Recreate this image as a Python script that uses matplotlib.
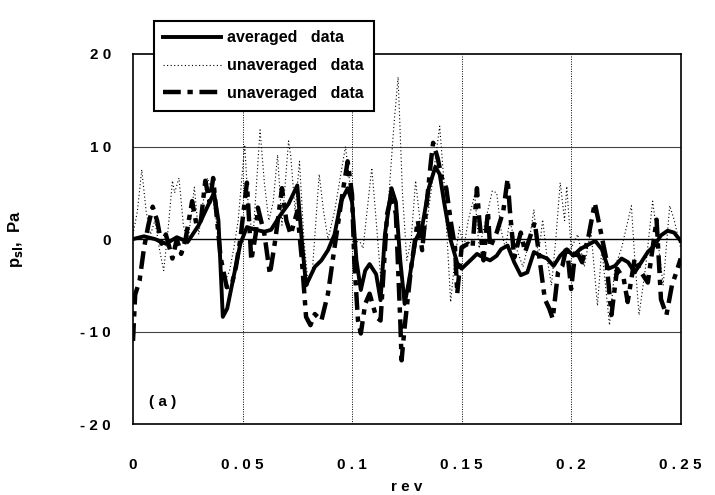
import numpy as np
import matplotlib
matplotlib.use("Agg")
import matplotlib.pyplot as plt

plt.rcParams['font.family'] = ['Liberation Sans', 'DejaVu Sans']

# averaged data (solid, thick)
avg_x = [0.000, 0.005, 0.010, 0.015, 0.020, 0.025, 0.030, 0.034, 0.037, 0.039, 0.041, 0.043,
         0.046, 0.049, 0.052, 0.056, 0.060, 0.063, 0.067, 0.071, 0.075, 0.077, 0.079, 0.081,
         0.083, 0.086, 0.089, 0.092, 0.095, 0.098, 0.100, 0.102, 0.104, 0.106, 0.108, 0.111,
         0.113, 0.115, 0.118, 0.120, 0.122, 0.124, 0.126, 0.129, 0.132, 0.135, 0.138, 0.140,
         0.142, 0.145, 0.148, 0.150, 0.154, 0.157, 0.160, 0.163, 0.166, 0.168, 0.171, 0.174,
         0.177, 0.180, 0.183, 0.186, 0.189, 0.192, 0.195, 0.198, 0.201, 0.204, 0.207, 0.211,
         0.214, 0.217, 0.220, 0.223, 0.226, 0.229, 0.232, 0.235, 0.238, 0.241, 0.244, 0.247, 0.250]
avg_y = [0.0, 0.3, 0.0, -0.5, 0.2, -0.3, 1.5, 3.5, 5.0, 2.0, -8.4, -7.5,
         -4.0, -0.5, 1.3, 1.0, 0.8, 1.0, 2.5, 3.8, 5.8, 0.0, -5.0, -4.0,
         -3.0, -2.3, -1.2, 0.5, 4.1, 5.5, 4.0, -2.3, -5.5, -3.4, -2.7, -3.8,
         -6.6, 0.5, 5.5, 4.0, -2.3, -7.0, -4.5, -0.1, 1.3, 5.5, 7.8, 7.0,
         4.0, -0.1, -2.6, -3.2, -2.3, -1.6, -2.0, -2.3, -1.8, -1.1, -0.7, -2.5,
         -3.9, -3.6, -1.4, -1.8, -2.1, -2.9, -1.8, -1.1, -1.8, -1.1, -0.7, -0.2,
         -1.1, -3.2, -2.9, -2.1, -2.5, -3.6, -2.5, -1.4, -0.7, 0.4, 0.9, 0.7, -0.2]

# unaveraged data (dotted, thin)
dot_x = [0.000, 0.002, 0.004, 0.006, 0.008, 0.010, 0.012, 0.014, 0.016, 0.018, 0.019, 0.021,
         0.023, 0.025, 0.028, 0.030, 0.032, 0.034, 0.036, 0.038, 0.040, 0.042, 0.044, 0.046,
         0.048, 0.051, 0.053, 0.055, 0.058, 0.060, 0.062, 0.064, 0.066, 0.068, 0.071, 0.072,
         0.074, 0.076, 0.078, 0.080, 0.082, 0.085, 0.087, 0.089, 0.092, 0.097, 0.099, 0.101,
         0.103, 0.105, 0.109, 0.111, 0.113, 0.116, 0.119, 0.121, 0.123, 0.125, 0.127, 0.129,
         0.131, 0.133, 0.136, 0.140, 0.142, 0.145, 0.147, 0.149, 0.151, 0.153, 0.156, 0.158,
         0.160, 0.164, 0.166, 0.168, 0.170, 0.172, 0.175, 0.178, 0.181, 0.183, 0.185, 0.187,
         0.189, 0.191, 0.193, 0.195, 0.197, 0.198, 0.200, 0.203, 0.206, 0.209, 0.212, 0.214,
         0.2175, 0.220, 0.223, 0.2275, 0.229, 0.231, 0.234, 0.2372, 0.240, 0.242, 0.245, 0.247, 0.250]
dot_y = [0.5, 3.0, 7.5, 3.0, 0.5, 2.0, -1.0, -3.4, 1.0, 6.3, 5.0, 6.6,
         1.5, -0.5, 5.6, 0.5, 4.0, 6.6, 5.0, 2.0, -3.0, -4.5, -3.5, -1.0,
         2.0, 10.2, 2.0, 1.0, 11.8, 6.0, 2.0, 4.0, 9.1, 1.5, 10.6, 9.0,
         3.0, 8.4, 0.0, -5.0, -3.0, 7.0, 3.0, 0.0, 3.0, 10.0, 6.0, -1.0,
         0.0, -1.0, 7.7, 2.0, -4.0, 2.0, 12.0, 17.5, 5.0, -2.3, 0.0, 6.3,
         2.0, 0.0, 5.0, 12.2, 6.0, -6.8, -2.0, 1.3, -1.0, 2.0, 4.8, -1.0,
         1.0, 5.2, 5.0, 1.0, -1.0, 2.0, -1.0, -3.0, 0.0, 3.2, -2.0, 2.1,
         -2.0, -5.0, 0.0, 6.1, 2.0, 5.7, -1.0, 0.5, -3.0, 1.0, -7.2, -1.0,
         -9.3, -3.0, -1.0, 3.6, -2.0, -8.2, -3.0, 4.1, -1.0, -5.0, 3.6, 2.1, -1.0]

# unaveraged data (dash-dot, thick)
dd_x = [0.000, 0.001, 0.003, 0.005, 0.007, 0.009, 0.011, 0.013, 0.015, 0.018, 0.020, 0.022,
        0.024, 0.027, 0.029, 0.031, 0.033, 0.035, 0.0366, 0.038, 0.040, 0.0428, 0.045, 0.047,
        0.049, 0.052, 0.053, 0.054, 0.056, 0.057, 0.060, 0.0625, 0.065, 0.068, 0.070, 0.072,
        0.075, 0.077, 0.079, 0.081, 0.083, 0.086, 0.089, 0.092, 0.096, 0.098, 0.100, 0.101,
        0.1027, 0.104, 0.106, 0.108, 0.111, 0.113, 0.116, 0.118, 0.120, 0.122, 0.1226, 0.124,
        0.127, 0.130, 0.132, 0.133, 0.136, 0.137, 0.139, 0.141, 0.143, 0.145, 0.147, 0.148,
        0.150, 0.153, 0.155, 0.157, 0.158, 0.160, 0.162, 0.163, 0.166, 0.169, 0.171, 0.172,
        0.174, 0.177, 0.179, 0.1834, 0.186, 0.188, 0.190, 0.1916, 0.194, 0.196, 0.198, 0.200,
        0.202, 0.205, 0.208, 0.2108, 0.213, 0.216, 0.2184, 0.221, 0.224, 0.2258, 0.229, 0.232,
        0.235, 0.239, 0.241, 0.2435, 0.246, 0.248, 0.250]
dd_y = [-11.0, -6.0, -4.5, -1.0, 1.5, 3.5, 2.0, -0.5, 0.5, -2.1, 0.0, -1.6,
        0.0, 4.1, 1.5, 2.0, 6.3, 4.0, 6.6, 3.0, -2.0, -5.2, -5.0, -3.0,
        0.0, 6.1, 2.0, -2.3, 0.5, 3.4, 0.5, -3.8, 0.0, 5.5, 2.0, 0.5,
        3.0, -2.0, -8.4, -9.3, -8.1, -8.8, -5.9, -0.9, 5.5, 8.4, 4.8, -2.3,
        -8.8, -10.2, -7.0, -5.9, -8.4, -8.8, 2.7, 4.8, 2.7, -8.8, -13.1, -9.5,
        -3.0, 2.0, -1.2, 1.3, 8.4, 10.4, 8.8, 6.6, 5.5, 2.0, -0.9, -5.9,
        -0.9, -0.5, -0.9, 5.5, 2.3, -2.3, 3.0, -0.9, 0.7, 3.0, 6.5, 3.2,
        -2.0, 0.7, -1.4, 1.8, -2.9, -6.5, -7.5, -8.6, -3.6, -2.9, -0.7, -5.4,
        -1.1, -2.5, 0.4, 3.9, 1.4, -2.1, -8.2, -3.2, -4.3, -6.8, -2.1, -3.6,
        -4.7, 2.1, -6.5, -8.2, -5.0, -3.6, -2.1]

x_ticks = [0, 0.05, 0.1, 0.15, 0.2, 0.25]
x_labels = ['0', '0 . 0 5', '0 . 1', '0 . 1 5', '0 . 2', '0 . 2 5']
y_ticks = [-20, -10, 0, 10, 20]
y_labels = ['- 2 0', '- 1 0', '0', '1 0', '2 0']

fig = plt.figure(figsize=(7.15, 4.95), dpi=100)
ax = fig.add_axes([0.186, 0.143, 0.766, 0.748])

# grid
for yv in [-10, 10]:
    ax.axhline(yv, color='#444444', lw=0.8, zorder=1)
ax.axhline(0, color='black', lw=1.0, zorder=1)
for xv in x_ticks[1:-1]:
    ax.axvline(xv, color='black', lw=0.7, ls=(0, (1, 1.5)), zorder=1)

l1, = ax.plot(avg_x, avg_y, color='black', lw=2.8, zorder=4, solid_joinstyle='round')
l2, = ax.plot(dot_x, dot_y, color='black', lw=0.8, ls=(0, (1, 2.2)), zorder=2)
l3, = ax.plot(dd_x, dd_y, color='black', lw=3.2, ls=(0, (4, 1.5, 1.2, 1.5)), zorder=3)

ax.set_xlim(0, 0.25)
ax.set_ylim(-20, 20)
ax.set_xticks(x_ticks)
ax.set_xticklabels(x_labels, fontsize=11, fontweight='bold')
ax.set_yticks(y_ticks)
ax.set_yticklabels(y_labels, fontsize=11, fontweight='bold')
ax.tick_params(length=0)
ax.tick_params(axis='x', pad=24)
ax.tick_params(axis='y', pad=16)
for s in ax.spines.values():
    s.set_linewidth(1.2)

ax.set_xlabel('r e v', fontsize=11, fontweight='bold', labelpad=6)
ax.set_ylabel('p$_{\\mathbf{s l}}$,  Pa', fontsize=12, fontweight='bold', labelpad=40)
ax.text(0.03, 0.05, '( a )', transform=ax.transAxes, fontsize=11, fontweight='bold')

leg = fig.legend([l1, l2, l3], ['averaged   data', 'unaveraged   data', 'unaveraged   data'],
                 loc='upper left', bbox_to_anchor=(0.204, 0.974), fancybox=False,
                 framealpha=1, edgecolor='black', handlelength=3.6, handletextpad=0.4,
                 borderpad=0.6, labelspacing=0.8, prop={'weight': 'bold', 'size': 11.5})
leg.get_frame().set_linewidth(1.5)
leg.set_zorder(10)

fig.savefig('out.png', dpi=100)
